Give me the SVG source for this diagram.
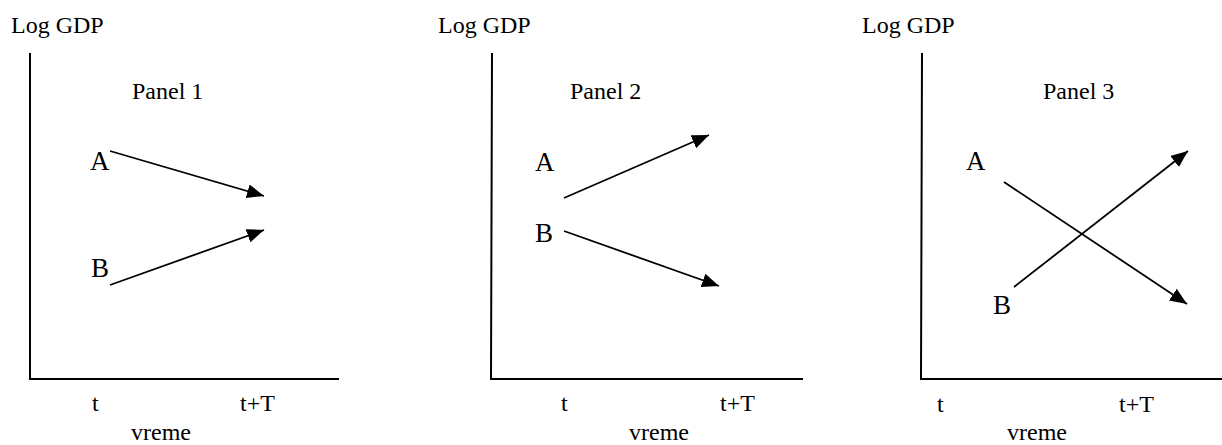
<svg xmlns="http://www.w3.org/2000/svg" width="1222" height="445" viewBox="0 0 1222 445">
<style>
text{font-family:"Liberation Serif","Times New Roman",serif;font-size:24px;fill:#000}
.lbl{font-size:27px}
.axis{stroke:#000;stroke-width:2;fill:none}
.arr{stroke:#000;stroke-width:1.8;fill:none;marker-end:url(#ah)}
</style>
<defs>
<marker id="ah" markerUnits="userSpaceOnUse" markerWidth="18" markerHeight="14" refX="17" refY="7" orient="auto">
<path d="M0,0 L17,7 L0,14 z" fill="#000"/>
</marker>
</defs>
<rect width="1222" height="445" fill="#fff"/>
<g id="panel1">
<path class="axis" d="M30,53 V379 H339"/>
<text x="11" y="33">Log GDP</text>
<text x="132" y="99">Panel 1</text>
<text class="lbl" x="90" y="170">A</text>
<text class="lbl" x="91" y="277">B</text>
<text x="92" y="411">t</text>
<text x="240" y="411">t+T</text>
<text x="131" y="440">vreme</text>
</g>
<g id="panel2">
<path class="axis" d="M492,53 L491,379 H803"/>
<text x="438" y="33">Log GDP</text>
<text x="570" y="99">Panel 2</text>
<text class="lbl" x="535" y="171">A</text>
<text class="lbl" x="535" y="242">B</text>
<text x="561" y="411">t</text>
<text x="720" y="411">t+T</text>
<text x="629" y="440">vreme</text>
</g>
<g id="panel3">
<path class="axis" d="M922,53 L921,379 H1222"/>
<text x="862" y="33">Log GDP</text>
<text x="1043" y="99">Panel 3</text>
<text class="lbl" x="966" y="170">A</text>
<text class="lbl" x="993" y="314">B</text>
<text x="937" y="412">t</text>
<text x="1119" y="412">t+T</text>
<text x="1007" y="440">vreme</text>
</g>
<g id="connectors">
<line class="arr" x1="110" y1="151" x2="264" y2="196"/>
<line class="arr" x1="110" y1="285" x2="264" y2="230"/>
<line class="arr" x1="564" y1="198" x2="709" y2="135"/>
<line class="arr" x1="564" y1="231" x2="719" y2="286"/>
<line class="arr" x1="1004" y1="182" x2="1187" y2="304"/>
<line class="arr" x1="1014" y1="287" x2="1188" y2="151"/>
</g>
</svg>
